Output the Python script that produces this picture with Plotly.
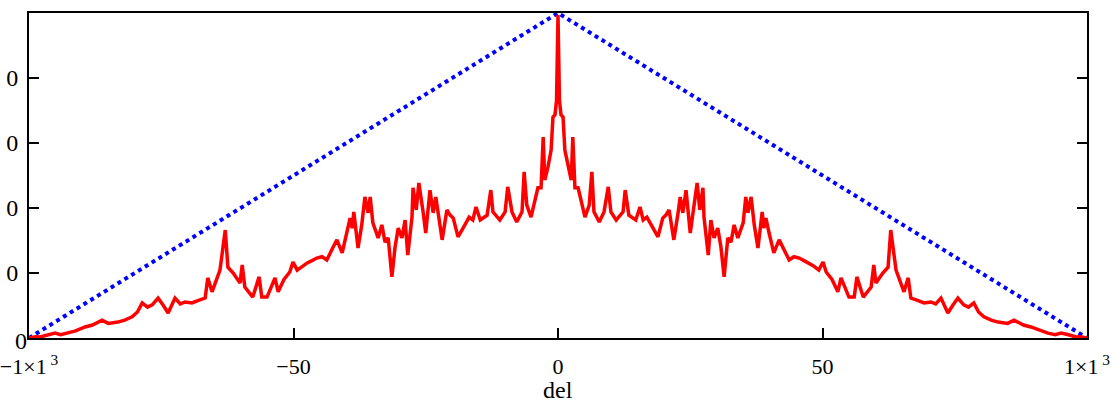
import plotly.graph_objects as go

# Left half of the red (symmetric) curve: x in del units, y in 0..1
red_x_left = [-100, -98.8, -97.9, -96.5, -95.1, -94.0, -92.6, -91.2, -89.4, -88.0, -86.2, -85.0, -83.2,
              -81.9, -80.5, -79.5, -78.6, -77.6, -76.7, -75.6, -74.6, -73.7, -72.4, -71.4, -70.5,
              -69.2, -67.7, -66.7, -66.2, -65.4, -63.9, -62.9, -62.4, -61.4,
              -60.1, -59.7, -59.2, -57.7, -56.5, -56.0, -55.0, -53.5, -52.9, -51.8, -50.7, -50.1, -49.3,
              -48.3, -47.4, -46.5, -45.6, -44.6, -43.7, -42.5, -41.8, -40.8, -39.9, -39.3, -38.9, -38.6,
              -37.8, -37.1, -36.5, -35.9, -35.5, -35.0, -34.0, -33.3, -32.7, -32.1, -31.4, -30.8, -30.2,
              -29.5, -28.9, -28.4, -27.6, -27.4, -26.8, -26.3, -25.5, -25.0, -24.2, -23.6, -23.1, -22.7,
              -21.9, -21.0, -20.4, -19.8, -18.9, -17.6, -16.8, -16.1, -15.5, -14.7, -13.4, -12.7,
              -12.3, -11.0, -10.0, -9.5, -8.7, -7.8, -6.8, -6.4, -5.9, -5.1, -4.3, -3.8, -3.2,
              -2.8, -2.5, -1.9, -1.3, -0.95, -0.57, -0.28, 0.0]
red_y_left = [0.0, 0.004, 0.003, 0.010, 0.015, 0.010, 0.015, 0.022, 0.034, 0.040, 0.055, 0.045, 0.049,
              0.055, 0.065, 0.080, 0.108, 0.095, 0.102, 0.123, 0.100, 0.077, 0.123, 0.105, 0.111,
              0.108, 0.117, 0.123, 0.185, 0.142, 0.209, 0.332, 0.218, 0.200,
              0.169, 0.225, 0.157, 0.126, 0.188, 0.126, 0.126, 0.185, 0.142, 0.180, 0.203, 0.234, 0.209,
              0.222, 0.231, 0.238, 0.246, 0.250, 0.240, 0.280, 0.302, 0.262, 0.323, 0.369, 0.338, 0.388,
              0.277, 0.348, 0.434, 0.385, 0.434, 0.354, 0.308, 0.348, 0.295, 0.308, 0.188, 0.280, 0.338,
              0.308, 0.363, 0.255, 0.372, 0.462, 0.394, 0.477, 0.388, 0.323, 0.455, 0.385, 0.434, 0.385,
              0.302, 0.394, 0.378, 0.369, 0.311, 0.348, 0.372, 0.363, 0.403, 0.363, 0.378, 0.455,
              0.388, 0.363, 0.388, 0.465, 0.388, 0.357, 0.388, 0.511, 0.409, 0.372, 0.425, 0.462, 0.462,
              0.618, 0.486, 0.526, 0.578, 0.680, 0.686, 0.730, 0.994]

# Blue dotted triangle
blue_x = [-100, 0, 100]
blue_y = [0.0, 1.0, 0.0]

# Ticks
x_tickvals = [-100, -50, 0, 50, 100]
x_ticktext = ["\u22121\u00d71<sup> 3</sup>", "\u221250", "0", "50", "1\u00d71<sup> 3</sup>"]
y_tickvals = [0.2, 0.4, 0.6, 0.8]
y_ticktext = ["0", "0", "0", "0"]
x_title = "del"

# Symmetric curve: mirror the read left half
red_x = red_x_left + [-v for v in reversed(red_x_left[:-1])]
red_y = red_y_left + list(reversed(red_y_left[:-1]))

fig = go.Figure()
fig.add_trace(go.Scatter(x=blue_x, y=blue_y, mode="lines",
                         line=dict(color="#0000ff", width=4, dash="dot"), showlegend=False))
fig.add_trace(go.Scatter(x=red_x, y=red_y, mode="lines",
                         line=dict(color="#ff0000", width=3.5), showlegend=False))

font = dict(family="Liberation Serif, Times New Roman, serif", size=24, color="black")
xfont = dict(family="Liberation Serif, Times New Roman, serif", size=22, color="black")
fig.update_layout(
    width=1113, height=405,
    margin=dict(l=29, r=26, t=13, b=67),
    paper_bgcolor="white", plot_bgcolor="white",
    font=font,
    xaxis=dict(range=[-100, 100], tickvals=x_tickvals, ticktext=x_ticktext,
               ticks="inside", ticklen=10, tickwidth=1.5, tickcolor="black",
               showline=True, linecolor="black", linewidth=2, mirror=True,
               showgrid=False, zeroline=False, automargin=False, tickfont=xfont,
               ticklabeloverflow="allow", ticklabelstandoff=8),
    yaxis=dict(range=[0, 1], tickvals=y_tickvals, ticktext=y_ticktext,
               ticks="inside", ticklen=10, tickwidth=1.5, tickcolor="black",
               showline=True, linecolor="black", linewidth=2, mirror="ticks",
               showgrid=False, zeroline=False, automargin=False,
               ticklabeloverflow="allow", ticklabelstandoff=4),
)
fig.add_annotation(x=0.5, y=0.0, xref="paper", yref="paper", text=x_title, showarrow=False,
                   xanchor="center", yanchor="middle", yshift=-52, font=font)
fig.add_annotation(x=0.0, y=0.0, xref="paper", yref="paper", text="0", showarrow=False,
                   xanchor="center", yanchor="middle", xshift=-8, yshift=-3, font=font)
fig.write_html("out.html", config={"displayModeBar": False},
               post_script="document.body.style.margin='0';")
